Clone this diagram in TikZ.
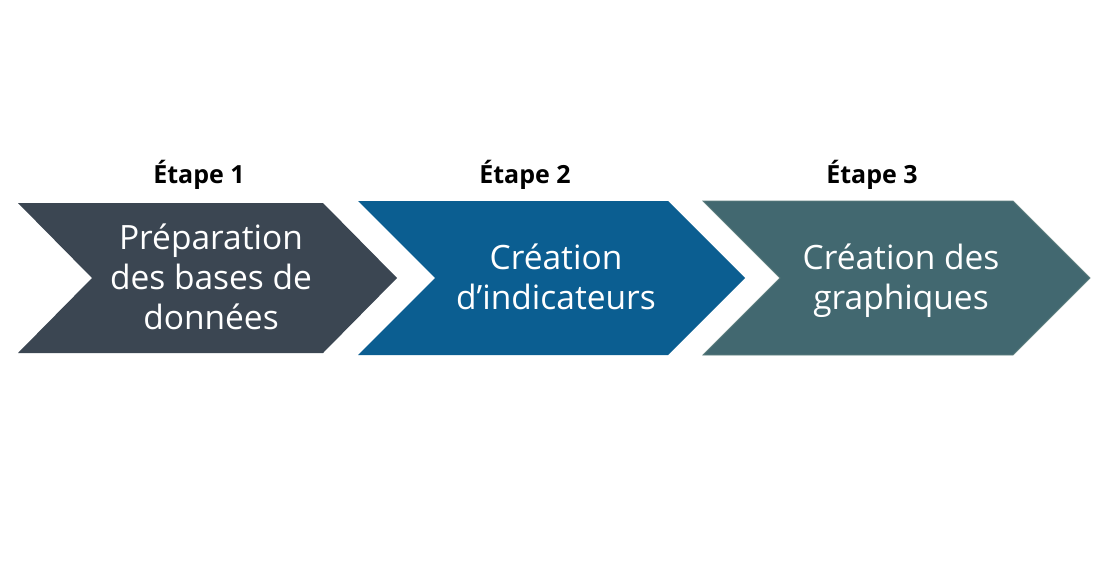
\documentclass[tikz,border=0pt]{standalone}
\usepackage{fontspec}
\setmainfont{Open Sans}
\usepackage{tikz}

\definecolor{slate}{HTML}{3B4652}
\definecolor{ocean}{HTML}{0B5E91}
\definecolor{teal}{HTML}{426870}
\definecolor{tealedge}{HTML}{5F8080}

\tikzset{
  etape/.style={font=\bfseries\fontsize{25}{28}\selectfont,text=black},
  boxtext/.style={align=center,text=white,font=\fontsize{33.5}{40}\selectfont},
}

\begin{document}
\begin{tikzpicture}[x=1pt,y=-1pt]
        \useasboundingbox (0,0) rectangle (1102,573);
        % chevrons: left / top right / tip / top / bottom / colour
        \foreach \xl/\xr/\xt/\yt/\yb/\c in {18/323/397/203/353/slate,
                                            358/668/745/201/355/ocean,
                                            703/1013/1090/201/355/teal} {
          \fill[\c] (\xl,\yt) -- (\xr,\yt) -- (\xt,{(\yt+\yb)/2}) --
            (\xr,\yb) -- (\xl,\yb) -- ({\xl+\xt-\xr},{(\yt+\yb)/2}) -- cycle;
        }
        \draw[tealedge,line width=0.8pt] (703,201) -- (1013,201) -- (1090,278) --
          (1013,355) -- (703,355) -- (780,278) -- cycle;
        \node[etape] (lbl1) at (199,175) {Étape 1};
        \node[etape] (lbl2) at (525,175) {Étape 2};
        \node[etape] (lbl3) at (872,175) {Étape 3};
        \node[boxtext] (txt1) at (211,277) {Préparation\\des bases de\\données};
        \node[boxtext] (txt2) at (556,277) {Création\\d’indicateurs};
        \node[boxtext] (txt3) at (901,281) {Création des\\graphiques};
\end{tikzpicture}
\end{document}
